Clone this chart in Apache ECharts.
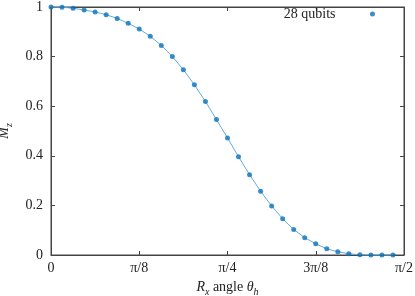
<!DOCTYPE html>
<html>
<head>
<meta charset="utf-8">
<script src="https://cdn.jsdelivr.net/npm/echarts@6/dist/echarts.min.js"></script>
<style>
html,body{margin:0;padding:0;background:#fff;}
#chart{width:415px;height:296px;}
</style>
</head>
<body>
<div id="chart"></div>
<script>
// Rx angle in units of pi
const thetaOverPi = [0, 0.015625, 0.03125, 0.046875, 0.0625, 0.078125, 0.09375, 0.109375,
  0.125, 0.140625, 0.15625, 0.171875, 0.1875, 0.203125, 0.21875, 0.234375,
  0.25, 0.265625, 0.28125, 0.296875, 0.3125, 0.328125, 0.34375, 0.359375,
  0.375, 0.390625, 0.40625, 0.421875, 0.4375, 0.453125, 0.46875, 0.484375];
const mz = [1.000, 0.999, 0.995, 0.988, 0.980, 0.969, 0.954, 0.934,
  0.911, 0.882, 0.845, 0.800, 0.747, 0.686, 0.619, 0.546,
  0.472, 0.396, 0.324, 0.257, 0.198, 0.146, 0.103, 0.070,
  0.045, 0.025, 0.013, 0.005, 0.001, 0.000, 0.000, 0.000];
const seriesName = '28 qubits';
const xTickLabels = ['0', 'π/8', 'π/4', '3π/8', 'π/2'];
const yTickLabels = ['0', '0.2', '0.4', '0.6', '0.8', '1'];
const xTicks = [0, 0.125, 0.25, 0.375, 0.5];
const yTicks = [0, 0.2, 0.4, 0.6, 0.8, 1];

const FONT = 'Liberation Serif';
const axisColor = '#444';
const textColor = '#222';
const dotColor = '#0b72b9';
const lineColor = '#62aedd';

const points = thetaOverPi.map((t, i) => [t, mz[i]]);
const xMax = xTicks[xTicks.length - 1];
const yMax = yTicks[yTicks.length - 1];

const richLabel = {
  i: {fontFamily: FONT, fontStyle: 'italic', fontSize: 14, lineHeight: 20, color: textColor},
  n: {fontFamily: FONT, fontSize: 14, lineHeight: 20, color: textColor},
  sub: {fontFamily: FONT, fontStyle: 'italic', fontSize: 10, lineHeight: 10, verticalAlign: 'bottom', color: textColor}
};

const axisCommon = {
  axisLine: {show: true, onZero: false, lineStyle: {color: axisColor, width: 1}},
  axisTick: {show: true, inside: true, length: 4, lineStyle: {color: axisColor, width: 1}},
  splitLine: {show: false}
};

const chart = echarts.init(document.getElementById('chart'), null, {renderer: 'canvas'});
chart.setOption({
  animation: false,
  backgroundColor: '#fff',
  grid: {left: 51, right: 11, top: 7, bottom: 41, containLabel: false, outerBoundsMode: 'none',
    show: true, borderColor: axisColor, borderWidth: 1, backgroundColor: 'rgba(0,0,0,0)'},
  legend: {
    data: [seriesName], right: 40, top: 7, padding: 0, align: 'right',
    icon: 'circle', itemWidth: 64, itemHeight: 5,
    textStyle: {fontFamily: FONT, fontSize: 14, color: textColor}
  },
  xAxis: [
    Object.assign({
      type: 'value', min: 0, max: xMax, interval: 0.125, position: 'bottom',
      axisLabel: {fontFamily: FONT, fontSize: 14, color: textColor, margin: 6,
        formatter: v => xTickLabels[Math.round(v / 0.125)]},
      name: '{i|R}{sub|x}{n| angle }{i|θ}{sub|h}',
      nameLocation: 'middle', nameGap: 22,
      nameTextStyle: {rich: richLabel}
    }, axisCommon),
    Object.assign({
      type: 'value', min: 0, max: xMax, interval: 0.125, position: 'top',
      axisLabel: {show: false}
    }, axisCommon)
  ],
  yAxis: [
    Object.assign({
      type: 'value', min: 0, max: yMax, interval: 0.2, position: 'left',
      axisLabel: {fontFamily: FONT, fontSize: 14, color: textColor, margin: 8,
        formatter: v => yTickLabels[Math.round(v / 0.2)]},
      name: '{i|M}{sub|z}',
      nameLocation: 'middle', nameGap: 32,
      nameTextStyle: {rich: richLabel}
    }, axisCommon),
    Object.assign({
      type: 'value', min: 0, max: yMax, interval: 0.2, position: 'right',
      axisLabel: {show: false}
    }, axisCommon)
  ],
  series: [
    {
      name: 'fit', type: 'line', data: points, showSymbol: false, symbol: 'none',
      lineStyle: {color: lineColor, width: 1}, z: 1, silent: true, clip: false,
      xAxisIndex: 0, yAxisIndex: 0
    },
    {
      name: seriesName, type: 'scatter', data: points, symbol: 'circle', symbolSize: 5,
      itemStyle: {color: dotColor}, z: 2, clip: false, xAxisIndex: 0, yAxisIndex: 0
    },
    {
      name: 'frame', type: 'scatter', data: [[0, 0]], symbolSize: 0, silent: true,
      xAxisIndex: 1, yAxisIndex: 1, itemStyle: {opacity: 0}
    }
  ]
});
</script>
</body>
</html>
